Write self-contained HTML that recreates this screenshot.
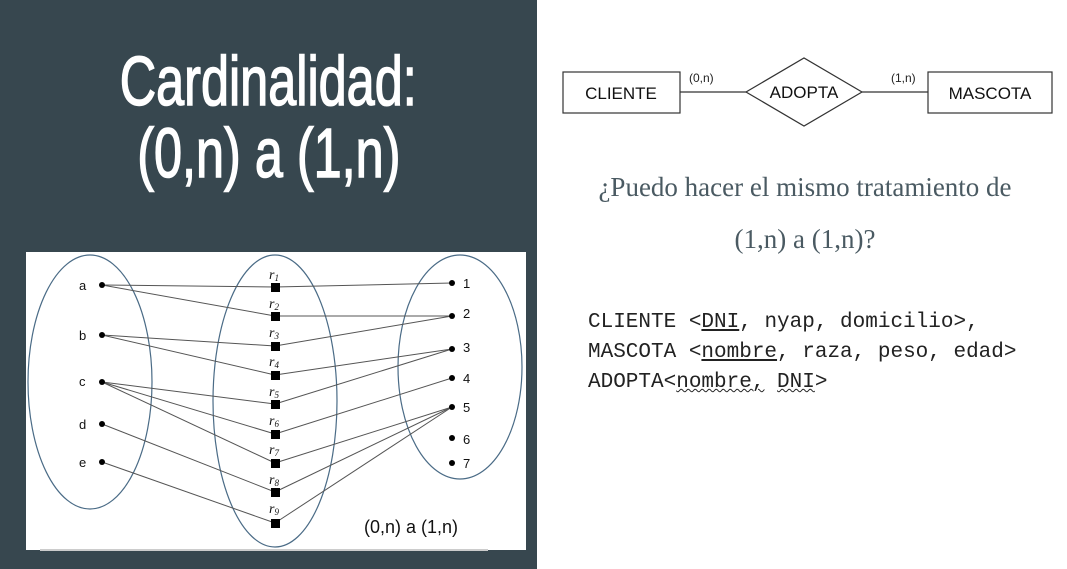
<!DOCTYPE html>
<html><head><meta charset="utf-8"><style>
body{margin:0;width:1067px;height:569px;background:#fff;position:relative;overflow:hidden;font-family:"Liberation Sans",sans-serif}
.left{position:absolute;left:0;top:0;width:537px;height:569px;background:#37474f}
.t{position:absolute;left:0;width:537px;text-align:center;color:#fff;font-size:70px;line-height:70px}
.t span{display:inline-block;transform:scaleX(0.72);-webkit-text-stroke:1.5px #fff}
.code{position:absolute;left:588px;font-family:"Liberation Mono",monospace;font-size:21px;color:#222;white-space:pre}
.q{position:absolute;left:560px;width:490px;text-align:center;font-family:"Liberation Serif",serif;font-size:27px;color:#4a5a62}
u.w{text-decoration:underline wavy;text-decoration-thickness:1px}
</style></head><body>
<div class="left"></div>
<div class="t" style="top:46px"><span>Cardinalidad:</span></div>
<div class="t" style="top:118px"><span>(0,n) a (1,n)</span></div>
<svg style="position:absolute;left:0;top:0" width="1067" height="569">
<rect x="26" y="252" width="500" height="298" fill="#fff"/>
<line x1="40" y1="550" x2="488" y2="550" stroke="#ccc" stroke-width="2"/>
<g fill="none" stroke="#4a6b86" stroke-width="1.2">
<ellipse cx="90" cy="382" rx="62" ry="127"/>
<ellipse cx="275" cy="401" rx="62" ry="146"/>
<ellipse cx="460" cy="367" rx="62" ry="112"/>
</g>
<g stroke="#555" stroke-width="1">
<line x1="102" y1="285" x2="275" y2="287"/><line x1="102" y1="285" x2="275" y2="316"/>
<line x1="102" y1="335" x2="275" y2="346"/><line x1="102" y1="335" x2="275" y2="375"/>
<line x1="102" y1="382" x2="275" y2="404"/><line x1="102" y1="382" x2="275" y2="434"/><line x1="102" y1="382" x2="275" y2="463"/>
<line x1="102" y1="424" x2="275" y2="492"/><line x1="102" y1="462" x2="275" y2="523"/>
<line x1="275" y1="287" x2="452" y2="283"/><line x1="275" y1="316" x2="452" y2="316"/><line x1="275" y1="346" x2="452" y2="316"/>
<line x1="275" y1="375" x2="452" y2="349"/><line x1="275" y1="404" x2="452" y2="349"/><line x1="275" y1="434" x2="452" y2="378"/>
<line x1="275" y1="463" x2="452" y2="407"/><line x1="275" y1="492" x2="452" y2="407"/><line x1="275" y1="523" x2="452" y2="407"/>
</g>
<g fill="#000">
<circle cx="102" cy="285" r="3"/><circle cx="102" cy="335" r="3"/><circle cx="102" cy="382" r="3"/><circle cx="102" cy="424" r="3"/><circle cx="102" cy="462" r="3"/>
<circle cx="452" cy="283" r="3"/><circle cx="452" cy="316" r="3"/><circle cx="452" cy="349" r="3"/><circle cx="452" cy="378" r="3"/><circle cx="452" cy="407" r="3"/><circle cx="452" cy="438" r="3"/><circle cx="452" cy="463" r="3"/>
<rect x="271" y="283" width="9" height="9"/><rect x="271" y="312" width="9" height="9"/><rect x="271" y="342" width="9" height="9"/><rect x="271" y="371" width="9" height="9"/><rect x="271" y="400" width="9" height="9"/><rect x="271" y="430" width="9" height="9"/><rect x="271" y="459" width="9" height="9"/><rect x="271" y="488" width="9" height="9"/><rect x="271" y="519" width="9" height="9"/>
</g>
<g font-size="13" fill="#111">
<text x="79" y="290">a</text><text x="79" y="340">b</text><text x="79" y="386">c</text><text x="79" y="429">d</text><text x="79" y="467">e</text>
<text x="463" y="288">1</text><text x="463" y="318">2</text><text x="463" y="352">3</text><text x="463" y="383">4</text><text x="463" y="412">5</text><text x="463" y="444">6</text><text x="463" y="468">7</text>
</g>
<g font-family="Liberation Serif,serif" font-style="italic" font-size="14" fill="#111">
<text x="269" y="279">r<tspan font-size="9" dy="2">1</tspan></text>
<text x="269" y="308">r<tspan font-size="9" dy="2">2</tspan></text>
<text x="269" y="337">r<tspan font-size="9" dy="2">3</tspan></text>
<text x="269" y="366">r<tspan font-size="9" dy="2">4</tspan></text>
<text x="269" y="396">r<tspan font-size="9" dy="2">5</tspan></text>
<text x="269" y="425">r<tspan font-size="9" dy="2">6</tspan></text>
<text x="269" y="454">r<tspan font-size="9" dy="2">7</tspan></text>
<text x="269" y="484">r<tspan font-size="9" dy="2">8</tspan></text>
<text x="269" y="513">r<tspan font-size="9" dy="2">9</tspan></text>
</g>
<text x="364" y="533" font-size="18" fill="#111">(0,n) a (1,n)</text>
<g stroke="#333" stroke-width="1.2" fill="#fff">
<line x1="680" y1="92" x2="746" y2="92"/><line x1="862" y1="92" x2="928" y2="92"/>
<rect x="563" y="72" width="117" height="41"/>
<polygon points="746,92 804,58 862,92 804,126"/>
<rect x="928" y="72" width="124" height="41"/>
</g>
<g font-size="17" fill="#111" text-anchor="middle">
<text x="621" y="99">CLIENTE</text><text x="804" y="98">ADOPTA</text><text x="990" y="99">MASCOTA</text>
</g>
<text x="689" y="82" font-size="12" fill="#222">(0,n)</text>
<text x="891" y="82" font-size="12" fill="#222">(1,n)</text>
</svg>
<div class="q" style="top:172px">¿Puedo hacer el mismo tratamiento de</div>
<div class="q" style="top:224px">(1,n) a (1,n)?</div>
<div class="code" style="top:311px">CLIENTE &lt;<u>DNI</u>, nyap, domicilio&gt;,</div>
<div class="code" style="top:341px">MASCOTA &lt;<u>nombre</u>, raza, peso, edad&gt;</div>
<div class="code" style="top:371px">ADOPTA&lt;<u class="w">nombre,</u> <u class="w">DNI</u>&gt;</div>
</body></html>
